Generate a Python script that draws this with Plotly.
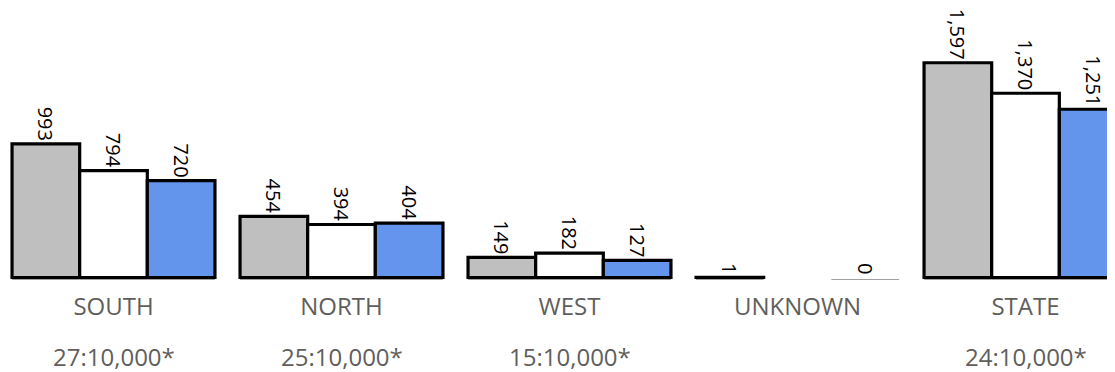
import plotly.graph_objects as go

categories = ["SOUTH", "NORTH", "WEST", "UNKNOWN", "STATE"]
ratio_labels = ["27:10,000*", "25:10,000*", "15:10,000*", "", "24:10,000*"]
series_a = [993, 454, 149, 1, 1597]
series_b = [794, 394, 182, None, 1370]
series_c = [720, 404, 127, 0, 1251]

series = [series_a, series_b, series_c]
fills = ["#BFBFBF", "#FFFFFF", "#6495ED"]

BARGAP = 0.11
FONT = "Open Sans, Noto Sans, sans-serif"

fig = go.Figure()
for vals, col in zip(series, fills):
    texts = [("" if v is None else f"{v:,}") for v in vals]
    line_cols = ["rgba(0,0,0,0)" if v == 0 else "#000000" for v in vals]
    fig.add_trace(go.Bar(
        x=categories, y=vals, text=texts,
        textposition="outside", textangle=90, constraintext="none",
        cliponaxis=True,
        textfont=dict(family=FONT, size=20, color="#000000"),
        marker=dict(color=col, line=dict(color=line_cols, width=3.2)),
        showlegend=False, hoverinfo="skip",
    ))

# grey baseline under each drawn bar
w = (1 - BARGAP) / len(series)
shapes = []
for j, vals in enumerate(series):
    for i, v in enumerate(vals):
        if v is None:
            continue
        c = i + (j - (len(series) - 1) / 2) * w
        shapes.append(dict(type="line", xref="x", yref="y", x0=c - w / 2, x1=c + w / 2,
                           ysizemode="pixel", yanchor=0, y0=-2, y1=-2,
                           line=dict(color="#A0A0A0", width=1), layer="below"))

annotations = []
for i, r in enumerate(ratio_labels):
    if r:
        annotations.append(dict(x=categories[i], y=-0.276, xref="x", yref="paper",
                                text=r, showarrow=False, yanchor="middle",
                                font=dict(family=FONT, size=24, color="#605E5C")))

fig.update_layout(
    width=1115, height=372,
    margin=dict(l=0, r=0, t=0, b=99),
    barmode="group", bargap=BARGAP, bargroupgap=0,
    plot_bgcolor="#FFFFFF", paper_bgcolor="#FFFFFF",
    shapes=shapes, annotations=annotations,
    xaxis=dict(range=[-0.4627, 4.4276], showgrid=False, zeroline=False, showline=False,
               ticks="", ticklabelstandoff=9,
               tickfont=dict(family=FONT, size=24, color="#605E5C")),
    yaxis=dict(range=[-26, 2004], visible=False, showgrid=False, zeroline=False),
)

fig.write_html("out.html")
